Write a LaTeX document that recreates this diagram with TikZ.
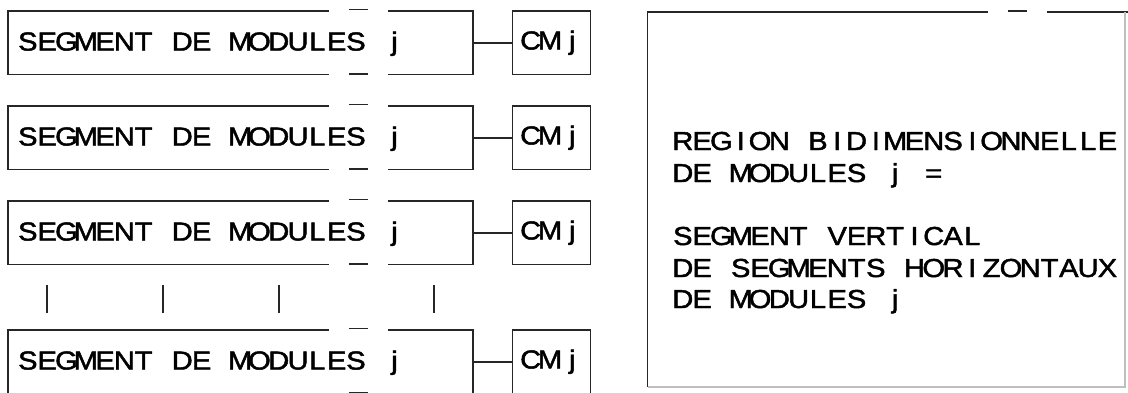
\documentclass[tikz,border=0pt]{standalone}
\usepackage{fontspec}
\usetikzlibrary{calc}
\newfontfamily\plotfont{Liberation Sans}[FakeBold=1.8,FakeStretch=1.12]
\ExplSyntaxOn
\dim_new:N \l_plot_pitch_dim
\dim_set:Nn \l_plot_pitch_dim {19.3pt}
\NewDocumentCommand\plot{O{19.3pt}m}{
  \group_begin:
  \str_map_inline:nn {#2} {
    \str_if_eq:nnTF {##1} {~}
      { \skip_horizontal:n {#1} }
      { \hbox_to_wd:nn {\l_plot_pitch_dim} { \hss ##1 \hss } }
  }
  \group_end:
}
\ExplSyntaxOff
\begin{document}
\begin{tikzpicture}[x=1pt,y=-1pt,
  ln/.style={draw=black!85, line width=1.7pt, line cap=butt, line join=miter},
  faint/.style={draw=black!25, line width=1.2pt},
  tick/.style={draw=black!85, line width=1.6pt},
  txt/.style={font=\plotfont\fontsize{26pt}{30pt}\selectfont},
  segbox/.style={minimum width=465pt, minimum height=63.5pt, inner sep=0pt, outer sep=0pt},
  cmbox/.style={txt, draw=black!85, line width=1.7pt, minimum width=78pt, minimum height=63.5pt,
    inner sep=0pt, outer sep=0pt},
  regbox/.style={minimum width=477.5pt, minimum height=375pt, inner sep=0pt, outer sep=0pt},
  lbl/.style={txt, inner sep=0pt, anchor=base west},
]
\useasboundingbox (0,0) rectangle (1128,392);
\clip (0,0) rectangle (1128,392);
% segment rows
\foreach \i/\t in {1/11, 2/106, 3/201, 4/330}{
  \node[segbox] (s\i) at (240.5,\t+31.75) {};
  \draw[ln] ($(s\i.north west)+(321,0)$) -- (s\i.north west) -- (s\i.south west) -- ++(321,0);
  \draw[ln] ($(s\i.north east)+(-85,0)$) -- (s\i.north east) -- (s\i.south east) -- ++(-85,0);
  \draw[ln] ($(s\i.north west)+(341,-1.5)$) -- ++(19,0);
  \draw[ln] ($(s\i.south west)+(341,-0.5)$) -- ++(19,0);
  \node[lbl] (t\i) at (18,\t+39.5) {\plot{SEGMENT DE MODULES j}};
  \node[cmbox] (c\i) at (551.5,\t+31.75) {\plot[3pt]{CM j}};
  \draw[ln] (s\i.east) -- (c\i.west);
}
% vertical ticks
\draw[tick] (47,285) -- (47,313);
\draw[tick] (163,285) -- (163,313);
\draw[tick] (279,285) -- (279,313);
\draw[tick] (434,285) -- (434,313);
% region box
\node[regbox] (reg) at (886.25,199.5) {};
\draw[ln] ($(reg.north west)+(340.5,0)$) -- (reg.north west) -- (reg.south west);
\draw[ln] ($(reg.north west)+(360.5,-1)$) -- ++(19,0);
\draw[ln] ($(reg.north west)+(399.5,0)$) -- (1128,12);
\draw[faint] (reg.south west) -- (reg.south east) -- (reg.north east);
\node[lbl] (r1) at (673,150) {\plot{REGION BIDIMENSIONNELLE}};
\node[lbl] (r2) at (673,182) {\plot{DE MODULES j =}};
\node[lbl] (r3) at (673,245) {\plot{SEGMENT VERTICAL}};
\node[lbl] (r4) at (673,277) {\plot{DE SEGMENTS HORIZONTAUX}};
\node[lbl] (r5) at (673,308) {\plot{DE MODULES j}};
\end{tikzpicture}
\end{document}
